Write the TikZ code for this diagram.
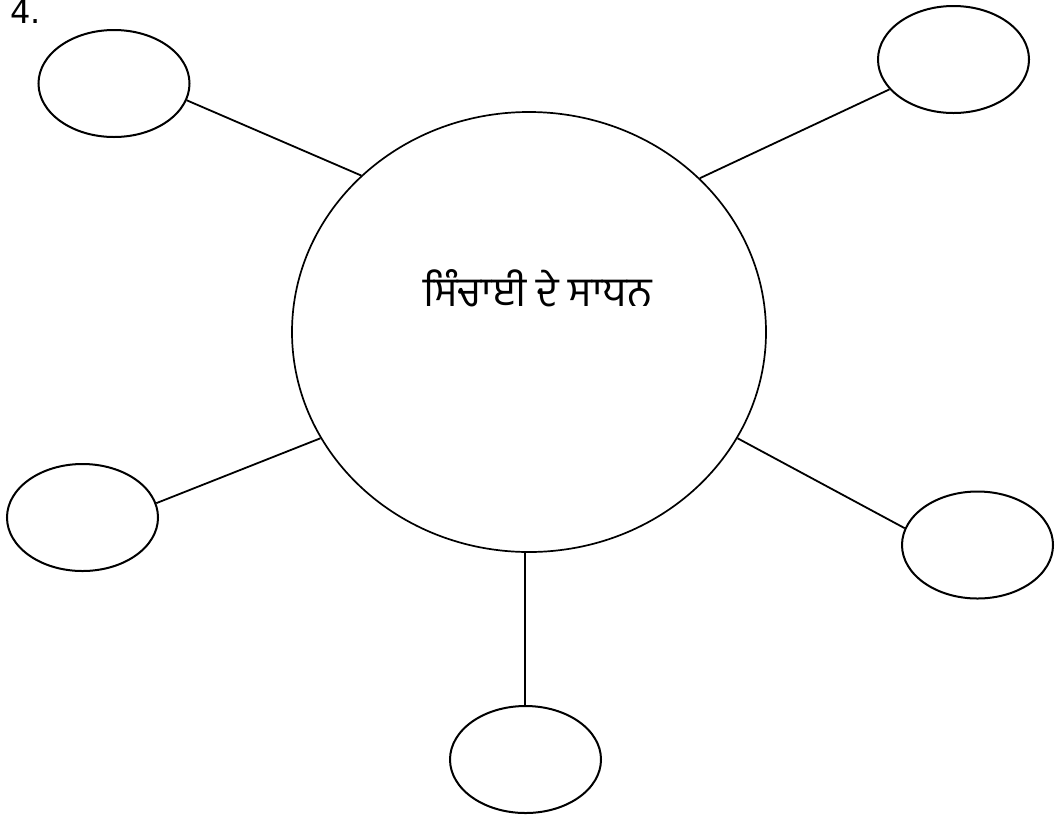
\documentclass[tikz,border=0pt]{standalone}
\usepackage{fontspec}
\usetikzlibrary{shapes.geometric}
\newfontfamily\gurfont[Script=Gurmukhi]{Hind Jalandhar}
\newfontfamily\numfont{DejaVu Sans}
\tikzset{
  smallell/.style={draw, ellipse, line width=2pt, minimum width=151pt, minimum height=107pt, inner sep=0pt},
  bigell/.style={draw, ellipse, line width=1.7pt, minimum width=474pt, minimum height=440pt, inner sep=0pt},
  conn/.style={draw, line width=1.8pt},
}
\begin{document}
\begin{tikzpicture}[x=1pt,y=-1pt]
\useasboundingbox (0,0) rectangle (1056,820);
\node[anchor=base west, inner sep=0pt, font=\numfont\fontsize{32}{36}\selectfont] (num) at (10,23) {4.};
\node[bigell] (c) at (529,332) {};
\node[anchor=base, inner sep=0pt, font=\gurfont\fontsize{41}{48}\selectfont] (t) at (537.5,306) {ਸਿੰਚਾਈ ਦੇ ਸਾਧਨ};
\node[smallell] (tl) at (114,83.5) {};
\node[smallell] (tr) at (953.5,59.5) {};
\node[smallell] (l) at (82.5,517.5) {};
\node[smallell] (r) at (977.5,545) {};
\node[smallell] (b) at (525.5,759.5) {};
\draw[conn] (tl.-13) -- (c.137);
\draw[conn] (tr.205.5) -- (c.42);
\draw[conn] (l.11) -- (c.207);
\draw[conn] (r.167) -- (c.-27);
\draw[conn] (c.-91.5) -- (c.-91.5 |- b.north);
\end{tikzpicture}
\end{document}
